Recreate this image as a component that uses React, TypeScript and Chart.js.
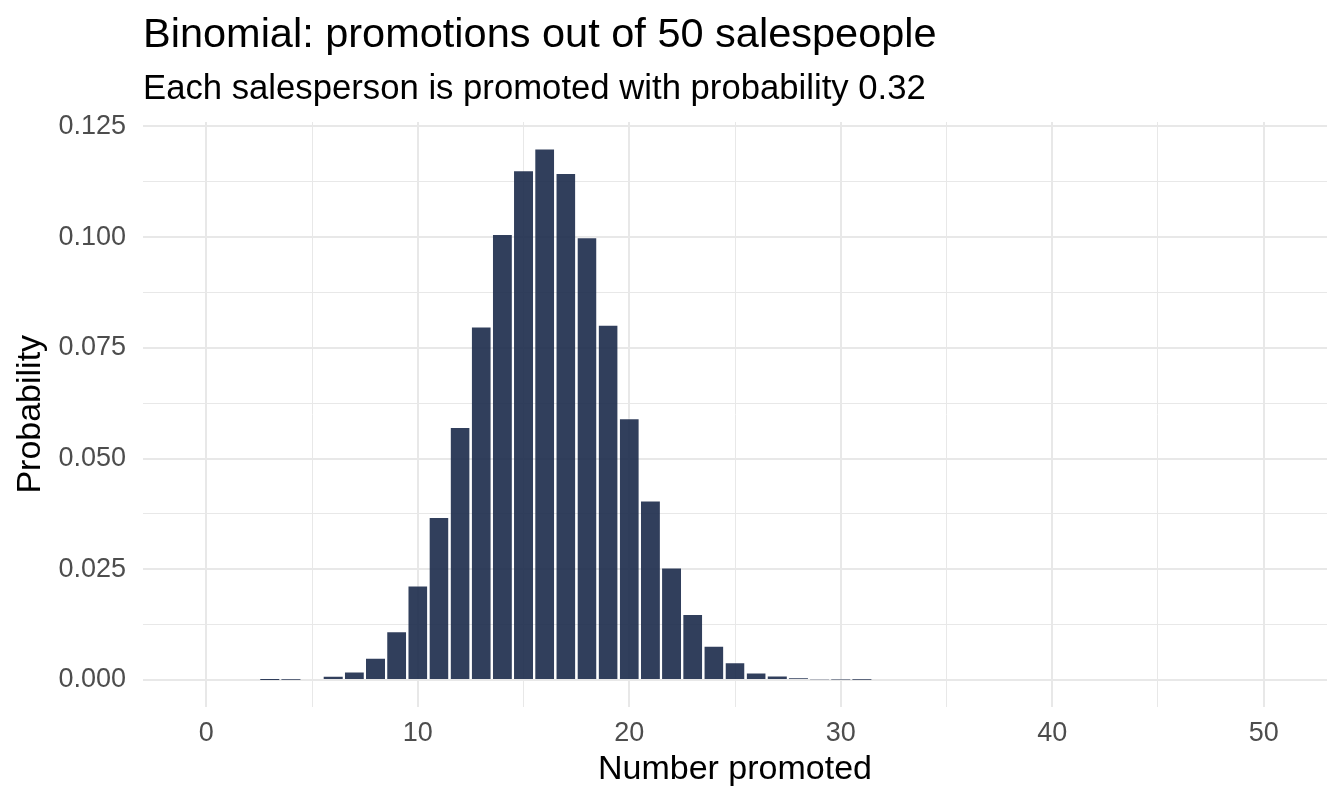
import React, { useEffect, useRef } from "react";
import { Chart, registerables } from "chart.js";

Chart.register(...registerables);

const FONT = '"Liberation Sans", Arial, Helvetica, sans-serif';

const TITLE = "Binomial: promotions out of 50 salespeople";
const SUBTITLE = "Each salesperson is promoted with probability 0.32";
const X_TITLE = "Number promoted";
const Y_TITLE = "Probability";

const promoted = [
  0, 1, 2, 3, 4, 5, 6, 7, 8, 9,
  10, 11, 12, 13, 14, 15, 16, 17, 18, 19,
  20, 21, 22, 23, 24, 25, 26, 27, 28, 29,
  30, 31, 32, 33, 34, 35, 36, 37, 38, 39,
  40, 41, 42, 43, 44, 45, 46, 47, 48, 49, 50,
];

const probability = [
  0, 0, 0, 0.000005, 0.00005, 0.0002, 0.0007, 0.0019, 0.005, 0.011,
  0.0213, 0.0368, 0.0571, 0.0798, 0.1007, 0.1151, 0.12, 0.1145, 0.1, 0.0802,
  0.0591, 0.0405, 0.0254, 0.0149, 0.0077, 0.004, 0.0017, 0.0008, 0.0004, 0.00015,
  0.0001, 0.00002, 0, 0, 0, 0, 0, 0, 0, 0,
  0, 0, 0, 0, 0, 0, 0, 0, 0, 0, 0,
];

const xTickValues = [0, 10, 20, 30, 40, 50];
const xTickLabels = ["0", "10", "20", "30", "40", "50"];
const yTickLabels = ["0.000", "0.025", "0.050", "0.075", "0.100", "0.125"];

const titlePlugin = {
  id: "ggTitle",
  afterDraw(chart: any) {
    const { ctx, chartArea } = chart;
    ctx.save();
    ctx.fillStyle = "#000000";
    ctx.textAlign = "left";
    ctx.textBaseline = "alphabetic";
    ctx.font = `41.5px ${FONT}`;
    ctx.fillText(TITLE, chartArea.left, 47);
    ctx.font = `34.7px ${FONT}`;
    ctx.fillText(SUBTITLE, chartArea.left, 98.5);
    ctx.restore();
  },
};

export default function App() {
  const ref = useRef<HTMLCanvasElement>(null);

  useEffect(() => {
    if (!ref.current) return;
    Chart.defaults.font.family = FONT;
    const data = promoted.map((k, i) => ({ x: k, y: probability[i] }));
    const chart = new Chart(ref.current, {
      type: "bar",
      data: {
        datasets: [
          {
            data,
            backgroundColor: "rgba(27,42,74,0.9)",
            borderColor: "rgba(255,255,255,0.45)",
            borderWidth: (c: any) => {
              const v = c.raw && typeof c.raw.y === "number" ? c.raw.y : 0;
              return v > 0.001
                ? { top: 1, left: 0, right: 0, bottom: 0 }
                : 0;
            },
            borderSkipped: "start",
            categoryPercentage: 1,
            barPercentage: 0.9,
          } as any,
        ],
      },
      options: {
        animation: false,
        responsive: true,
        maintainAspectRatio: false,
        devicePixelRatio: 1,
        layout: { padding: { top: 122, right: 17, left: 0, bottom: 0 } },
        plugins: {
          legend: { display: false },
          tooltip: { enabled: false },
          title: { display: false },
        },
        scales: {
          x: {
            type: "linear",
            min: -2.995,
            max: 52.995,
            offset: false,
            border: { display: false },
            grid: {
              offset: false,
              drawTicks: false,
              color: "#E8E8E8",
              lineWidth: (c: any) => (c.index % 2 === 0 ? 2 : 1),
            },
            ticks: {
              stepSize: 5,
              includeBounds: false,
              autoSkip: false,
              maxRotation: 0,
              padding: 11,
              color: "#4D4D4D",
              font: { size: 27 },
              callback: (v: any) => {
                const idx = xTickValues.indexOf(Number(v));
                return idx >= 0 ? xTickLabels[idx] : "";
              },
            },
            title: {
              display: true,
              text: X_TITLE,
              color: "#000000",
              font: { size: 34 },
              padding: { top: 0, bottom: 15.7 },
            },
            afterFit: (s: any) => {
              s.height = 99.5;
            },
          } as any,
          y: {
            type: "linear",
            min: -0.006,
            max: 0.126,
            border: { display: false },
            grid: {
              drawTicks: false,
              color: "#E8E8E8",
              lineWidth: (c: any) => (c.index % 2 === 0 ? 2 : 1),
            },
            ticks: {
              stepSize: 0.0125,
              includeBounds: false,
              autoSkip: false,
              padding: 17,
              color: "#4D4D4D",
              font: { size: 27 },
              callback: (_v: any, i: number) =>
                i % 2 === 0 ? yTickLabels[i / 2] ?? "" : "",
            },
            title: {
              display: true,
              text: Y_TITLE,
              color: "#000000",
              font: { size: 34 },
              padding: { top: 9.8, bottom: 0 },
            },
            afterFit: (s: any) => {
              s.width = 143;
            },
          } as any,
        },
      },
      plugins: [titlePlugin],
    });
    return () => chart.destroy();
  }, []);

  return (
    <div
      style={{
        position: "fixed",
        left: 0,
        top: 0,
        width: 1344,
        height: 806,
        background: "#ffffff",
      }}
    >
      <canvas ref={ref} />
    </div>
  );
}
